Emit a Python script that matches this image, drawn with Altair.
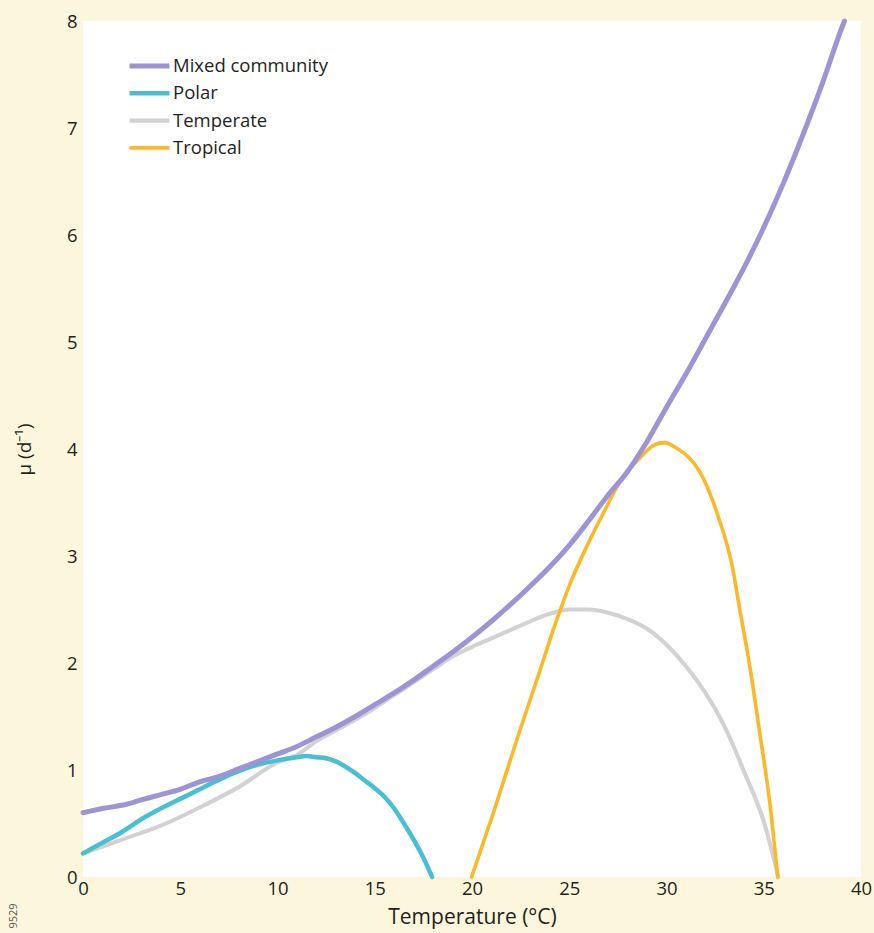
import altair as alt
import pandas as pd

# Growth rate (per day) against temperature for each phytoplankton group
mixed_t = [0, 1, 2, 3, 4, 5, 6, 7, 8, 9, 10, 11, 12, 13, 14, 15, 16, 17, 18, 19,
           20, 21, 22, 23, 24, 25, 26, 27, 28, 29, 30, 31, 32, 33, 34, 35, 36, 37,
           38, 39, 39.15]
mixed_mu = [0.60, 0.64, 0.67, 0.72, 0.77, 0.82, 0.89, 0.94, 1.01, 1.08, 1.15, 1.22,
            1.31, 1.40, 1.50, 1.61, 1.72, 1.84, 1.97, 2.10, 2.24, 2.39, 2.55, 2.72,
            2.90, 3.10, 3.33, 3.57, 3.79, 4.07, 4.39, 4.70, 5.03, 5.36, 5.70, 6.07,
            6.48, 6.93, 7.41, 7.93, 8.0]

polar_t = [0, 1, 2, 3, 4, 5, 6, 7, 8, 9, 10, 11, 11.5, 12, 12.5, 13, 13.5, 14,
           14.5, 15, 15.5, 16, 16.5, 17, 17.5, 17.95]
polar_mu = [0.22, 0.32, 0.42, 0.54, 0.64, 0.73, 0.82, 0.91, 0.99, 1.05, 1.09, 1.12,
            1.13, 1.12, 1.11, 1.08, 1.03, 0.97, 0.90, 0.83, 0.75, 0.64, 0.50, 0.35,
            0.18, 0.0]

temperate_t = [0, 2, 4, 6, 8, 10, 11, 12, 13, 14, 15, 16, 17, 18, 19, 20, 21, 22,
               23, 24, 25, 26, 27, 28, 29, 30, 31, 32, 33, 34, 35, 35.75]
temperate_mu = [0.22, 0.35, 0.48, 0.65, 0.84, 1.07, 1.14, 1.27, 1.37, 1.47, 1.58,
                1.70, 1.82, 1.94, 2.06, 2.15, 2.23, 2.31, 2.39, 2.46, 2.50, 2.50,
                2.47, 2.41, 2.32, 2.17, 1.97, 1.72, 1.40, 0.98, 0.52, 0.0]

tropical_t = [19.98, 21.1, 22.3, 23.33, 24.35, 25.04, 25.9, 26.75, 27.5, 28.7,
              29.4, 29.9, 30.5, 31.1, 31.7, 32.6, 33.45, 33.7, 34.3, 34.8, 35.3,
              35.72]
tropical_mu = [0.0, 0.60, 1.28, 1.84, 2.40, 2.74, 3.09, 3.40, 3.66, 3.93, 4.04,
               4.06, 4.01, 3.93, 3.79, 3.40, 2.84, 2.57, 1.95, 1.34, 0.71, 0.0]

series_names = ["Mixed community", "Polar", "Temperate", "Tropical"]
series_colors = ["#9d94d6", "#48bfd3", "#d2d2d2", "#fbb929"]
series_widths = [5.0, 3.6, 2.6, 3.8]

x_ticks = [0, 5, 10, 15, 20, 25, 30, 35, 40]
y_ticks = [0, 1, 2, 3, 4, 5, 6, 7, 8]

# Drawing order: temperate at the back, mixed community on top
frames = []
for name, ts, mus in [("Temperate", temperate_t, temperate_mu),
                      ("Polar", polar_t, polar_mu),
                      ("Tropical", tropical_t, tropical_mu),
                      ("Mixed community", mixed_t, mixed_mu)]:
    frames.append(pd.DataFrame({"series": name, "temp": ts, "mu": mus}))
df = pd.concat(frames, ignore_index=True)

FONT = "Open Sans"
INK = "#231f20"

lines = alt.Chart(df).mark_line(interpolate="monotone", strokeCap="round",
                                strokeJoin="round").encode(
    x=alt.X("temp:Q", scale=alt.Scale(domain=[0, 40], nice=False),
            axis=alt.Axis(values=x_ticks, title="Temperature (°C)", grid=False,
                          domain=False, ticks=False, labelFlush=False,
                          labelPadding=2, labelFontSize=18.5, titleFontSize=21,
                          titlePadding=9, labelOverlap=False)),
    y=alt.Y("mu:Q", scale=alt.Scale(domain=[0, 8], nice=False),
            axis=alt.Axis(values=y_ticks, title="μ (d⁻¹)", grid=False,
                          domain=False, ticks=False, labelFlush=False,
                          labelPadding=6, labelFontSize=18.5, titleFontSize=19,
                          titlePadding=32, labelOverlap=False)),
    color=alt.Color("series:N",
                    scale=alt.Scale(domain=series_names, range=series_colors),
                    legend=alt.Legend(orient="none", legendX=44, legendY=34,
                                      title=None, symbolType="stroke",
                                      symbolSize=1600, clipHeight=22,
                                      rowPadding=5.3, labelOffset=1,
                                      labelFontSize=18.5, labelFont=FONT,
                                      labelColor=INK)),
    strokeWidth=alt.StrokeWidth("series:N",
                                scale=alt.Scale(domain=series_names,
                                                range=series_widths),
                                legend=None),
    detail="series:N",
)

code_label = alt.Chart(pd.DataFrame({"code": ["9529"]})).mark_text(
    angle=270, font=FONT, fontSize=11, color="#555555", align="center",
    baseline="middle"
).encode(text="code:N", x=alt.value(-69), y=alt.value(895))

chart = alt.layer(lines, code_label).properties(
    width=778, height=856,
    autosize=alt.AutoSizeParams(type="none"),
    padding={"left": 83, "top": 21, "right": 13, "bottom": 56},
).configure(
    background="#fbf6dc", font=FONT
).configure_view(
    fill="white", stroke=None
).configure_axis(
    labelFont=FONT, titleFont=FONT, labelColor=INK, titleColor=INK,
    titleFontWeight="normal"
)

chart.save("out.html", embed_options={"renderer": "svg", "actions": False})
